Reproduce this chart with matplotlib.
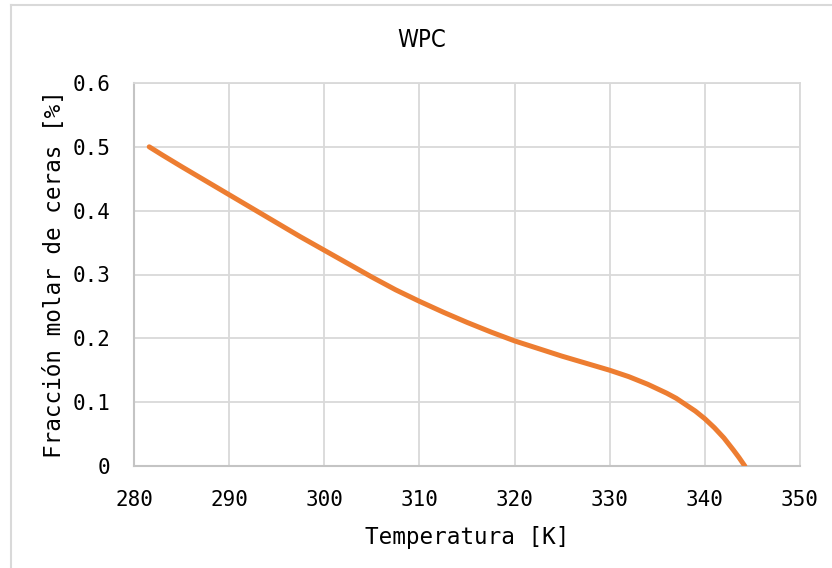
import matplotlib
matplotlib.use("Agg")
import matplotlib.pyplot as plt
from matplotlib.lines import Line2D

# Wax molar fraction vs temperature (WPC model)
temperatura_K = [281.6, 283, 285, 287.5, 290, 292.5, 295, 297.5, 300, 302.5,
                 305, 307.5, 310, 312.5, 315, 317.5, 320, 322.5, 325, 327.5,
                 330, 332, 334, 336, 337, 338, 339, 340, 341, 342, 343,
                 343.6, 344.2]
fraccion_ceras = [0.500, 0.487, 0.469, 0.447, 0.425, 0.403, 0.381, 0.359,
                  0.338, 0.317, 0.296, 0.276, 0.258, 0.241, 0.225, 0.210,
                  0.196, 0.184, 0.172, 0.161, 0.150, 0.140, 0.128, 0.114,
                  0.106, 0.096, 0.086, 0.074, 0.060, 0.044, 0.025, 0.013,
                  0.0]

x_ticks = [280, 290, 300, 310, 320, 330, 340, 350]
y_ticks = [0, 0.1, 0.2, 0.3, 0.4, 0.5, 0.6]
y_ticklabels = ["0", "0.1", "0.2", "0.3", "0.4", "0.5", "0.6"]

mono = "DejaVu Sans Mono"
grid_col = "#d9d9d9"

fig = plt.figure(figsize=(8.32, 5.68), dpi=100)
ax = fig.add_axes([134 / 832, 1 - 466 / 568, (800 - 134) / 832, (466 - 83) / 568])

ax.plot(temperatura_K, fraccion_ceras, color="#ED7D31", lw=3.6,
        solid_capstyle="round", solid_joinstyle="round", zorder=3)

ax.set_xlim(280, 350)
ax.set_ylim(0, 0.6)
ax.set_xticks(x_ticks)
ax.set_yticks(y_ticks)
ax.set_yticklabels(y_ticklabels)
ax.grid(True, color=grid_col, lw=1.3)
ax.set_axisbelow(True)
ax.tick_params(axis="x", length=0, pad=17, labelsize=15)
ax.tick_params(axis="y", length=0, pad=17, labelsize=15)
for lab in ax.get_xticklabels() + ax.get_yticklabels():
    lab.set_fontfamily(mono)
for side in ["top", "right"]:
    ax.spines[side].set_color(grid_col)
    ax.spines[side].set_linewidth(1.3)
for side in ["left", "bottom"]:
    ax.spines[side].set_color("#c4c4c4")
    ax.spines[side].set_linewidth(1.5)

ax.set_xlabel("Temperatura [K]", fontfamily=mono, fontsize=16.3, labelpad=12)
ax.set_ylabel("Fracción molar de ceras [%]", fontfamily=mono, fontsize=16.3, labelpad=5)
fig.text(422 / 832, 1 - 40 / 568, "WPC", fontfamily="DejaVu Sans",
         fontstretch="condensed", fontsize=17, ha="center", va="center")

# light frame around the chart area
fig.add_artist(Line2D([10.5 / 832, 10.5 / 832], [0, 1 - 4.5 / 568],
                      transform=fig.transFigure, color="#d9d9d9", lw=1.5))
fig.add_artist(Line2D([10.5 / 832, 1], [1 - 4.5 / 568, 1 - 4.5 / 568],
                      transform=fig.transFigure, color="#d9d9d9", lw=1.5))

fig.savefig("out.png", dpi=100)
